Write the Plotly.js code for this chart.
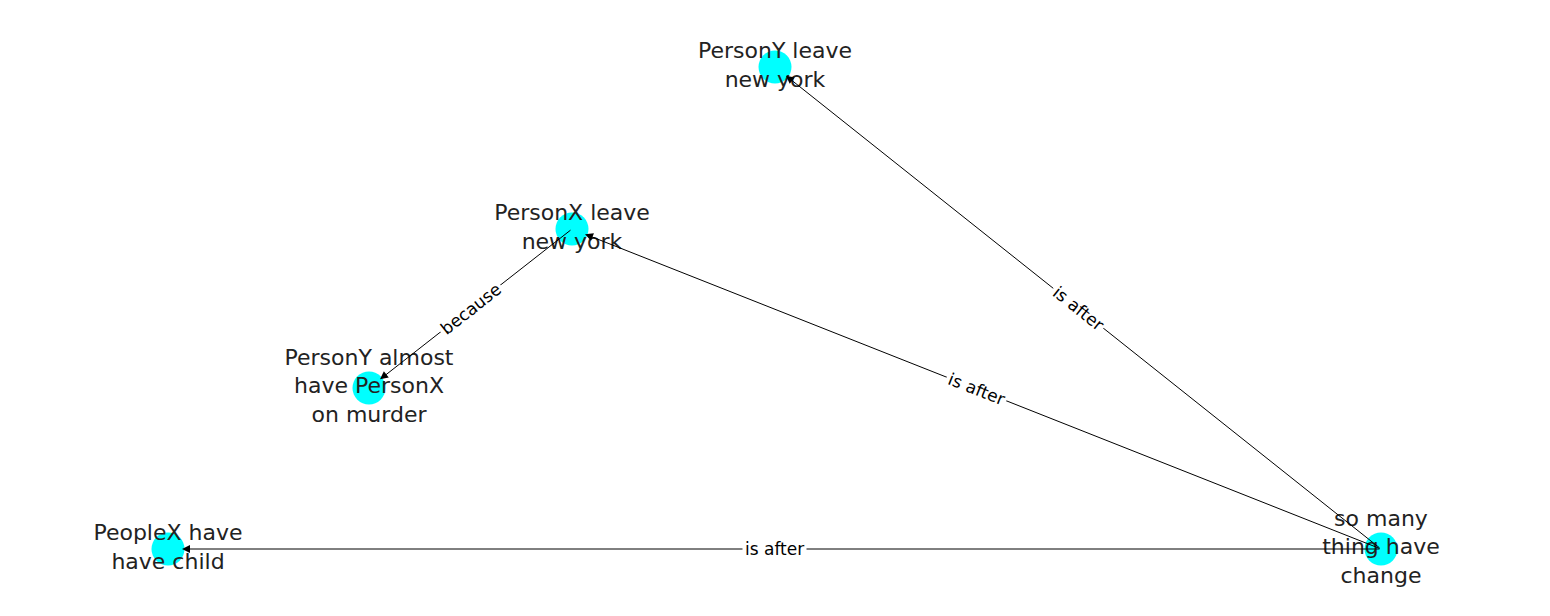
<!DOCTYPE html>
<html>
<head>
<meta charset="utf-8">
<script src="https://cdn.plot.ly/plotly-3.0.1.min.js"></script>
<style>body{margin:0;background:#fff}</style>
</head>
<body>
<div id="graph" style="width:1550px;height:616px"></div>
<script>
// node layout (screen-like coordinates, y grows downward)
var nodeNames = ["PersonY leave<br>new york", "PersonX leave<br>new york", "PersonY almost<br>have PersonX<br>on murder", "PeopleX have<br>have child", "so many<br>thing have<br>change"]
var nodeX = [775, 572, 369, 168, 1381]
var nodeY = [67, 229, 388, 549, 549]

var edgeFrom = [4, 4, 4, 1]
var edgeTo = [3, 1, 0, 2]
var edgeLabels = ["is after", "is after", "is after", "because"]

var annotations = []
for (var i = 0; i < edgeFrom.length; i++) {
    var a = edgeFrom[i], b = edgeTo[i]
    annotations.push({
        x: nodeX[b], y: nodeY[b], ax: nodeX[a], ay: nodeY[a],
        xref: "x", yref: "y", axref: "x", ayref: "y",
        showarrow: true, arrowhead: 2, arrowsize: 1.6, arrowwidth: 1,
        arrowcolor: "#000", standoff: 14, text: ""
    })
    var dx = nodeX[b] - nodeX[a], dy = nodeY[b] - nodeY[a]
    var ang = Math.atan2(dy, dx) * 180 / Math.PI
    if (ang > 90) ang -= 180
    if (ang < -90) ang += 180
    annotations.push({
        x: (nodeX[a] + nodeX[b]) / 2, y: (nodeY[a] + nodeY[b]) / 2,
        xref: "x", yref: "y", showarrow: false, text: edgeLabels[i],
        textangle: ang, bgcolor: "#fff", borderpad: 2,
        font: {family: "DejaVu Sans", size: 17, color: "#000"}
    })
}

Plotly.newPlot(
    document.getElementById("graph"),
    [{
        type: "scatter",
        mode: "markers+text",
        x: nodeX,
        y: nodeY,
        text: nodeNames,
        textposition: "middle center",
        marker: {size: 33, color: "#00ffff"},
        textfont: {family: "DejaVu Sans", size: 22, color: "#222"},
        hoverinfo: "skip",
        cliponaxis: false,
    }],
    {
        width: 1550,
        height: 616,
        margin: {t: 0, l: 0, r: 0, b: 0},
        showlegend: false,
        plot_bgcolor: "#fff",
        paper_bgcolor: "#fff",
        xaxis: {range: [0, 1550], visible: false, fixedrange: true},
        yaxis: {range: [616, 0], visible: false, fixedrange: true},
        annotations: annotations,
    },
    {staticPlot: true}
)
</script>
</body>
</html>
